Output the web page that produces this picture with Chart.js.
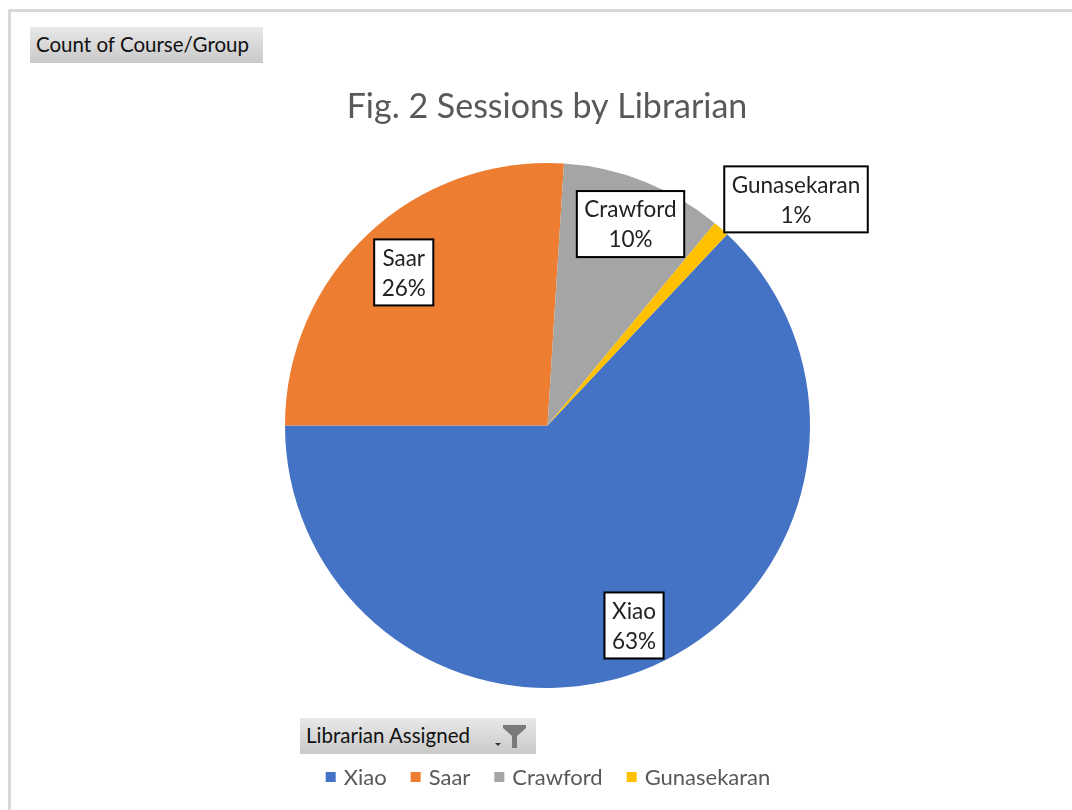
<!DOCTYPE html>
<html>
<head>
<meta charset="utf-8">
<title>Sessions by Librarian</title>
<script src="https://cdn.jsdelivr.net/npm/chart.js@4.4.1/dist/chart.umd.min.js"></script>
<style>
  html, body { margin: 0; padding: 0; background: #fff; }
  #wrap { position: relative; width: 1072px; height: 810px; overflow: hidden; }
  #frame { position: absolute; left: 8px; top: 9px; width: 1080px; height: 820px;
           border-left: 3px solid #d9d9d9; border-top: 3px solid #d9d9d9; box-sizing: border-box; }
  .fieldBtn { position: absolute; box-sizing: border-box; height: 36px; line-height: 35px;
              font-family: Lato, "Noto Sans", sans-serif; font-size: 20.5px; color: #111;
              padding-left: 6px; background: linear-gradient(#e8e8e8, #c9c9c9); }
  #btnValues { left: 30px; top: 27px; width: 233px; }
  #btnAxis { left: 300px; top: 718px; width: 236px; }
  #btnAxis svg { position: absolute; right: 8px; top: 6px; }
  canvas { position: absolute; left: 0; top: 0; }
</style>
</head>
<body>
<div id="wrap">
  <div id="frame"></div>
  <canvas id="grafico" width="1072" height="810"></canvas>
  <div class="fieldBtn" id="btnValues">Count of Course/Group</div>
  <div class="fieldBtn" id="btnAxis">Librarian Assigned
    <svg width="36" height="26" viewBox="0 0 36 26">
      <path d="M3 19 L9 19 L6 22 Z" fill="#333"/>
      <path d="M11 1 L34 1 L34 4 L25 12 L25 24 L20 24 L20 12 L11 4 Z" fill="#7a7a7a"/>
    </svg>
  </div>
</div>
<script>
// sessions per librarian (count of course/group)
const librarians = ['Xiao', 'Saar', 'Crawford', 'Gunasekaran'];
const sessionCounts = [63, 26, 10, 1];
const sliceColors = ['#4472C4', '#ED7D31', '#A5A5A5', '#FFC000'];
const chartTitle = 'Fig. 2 Sessions by Librarian';

const FONT = 'Lato, "Noto Sans", sans-serif';

// where each callout sits: fraction of the radius, plus a small angle nudge (deg)
const calloutPlacement = [
  { r: 0.83, turn: 0 },
  { r: 0.80, turn: 0 },
  { r: 0.83, turn: 0.8 },
  { r: 1.28, turn: 6.3 }
];

const titlePlugin = {
  id: 'tituloGrafico',
  afterDraw(chart) {
    const c = chart.ctx;
    c.save();
    c.fillStyle = '#595959';
    c.font = '34px ' + FONT;
    c.textAlign = 'center';
    c.textBaseline = 'middle';
    c.fillText(chartTitle, 547, 107);
    c.restore();
  }
};

// white boxed callouts with name and percentage
const calloutPlugin = {
  id: 'rotulos',
  afterDatasetsDraw(chart) {
    const c = chart.ctx;
    const meta = chart.getDatasetMeta(0);
    const total = sessionCounts.reduce((a, b) => a + b, 0);
    c.save();
    c.font = '22.5px ' + FONT;
    c.textAlign = 'center';
    c.textBaseline = 'middle';
    meta.data.forEach((arc, i) => {
      const p = arc.getProps(['x', 'y', 'startAngle', 'endAngle', 'outerRadius'], true);
      const place = calloutPlacement[i];
      const mid = (p.startAngle + p.endAngle) / 2 + place.turn * Math.PI / 180;
      const cx = p.x + Math.cos(mid) * p.outerRadius * place.r;
      const cy = p.y + Math.sin(mid) * p.outerRadius * place.r;
      const pct = Math.round(sessionCounts[i] / total * 100) + '%';
      const w = Math.max(c.measureText(librarians[i]).width, c.measureText(pct).width) + 15;
      const h = 66;
      c.fillStyle = '#fff';
      c.fillRect(cx - w / 2, cy - h / 2, w, h);
      c.strokeStyle = '#000';
      c.lineWidth = 2;
      c.strokeRect(cx - w / 2, cy - h / 2, w, h);
      c.fillStyle = '#222';
      c.fillText(librarians[i], cx, cy - 14);
      c.fillText(pct, cx, cy + 16);
    });
    c.restore();
  }
};

// legend row under the axis field button
const legendPlugin = {
  id: 'legenda',
  afterDraw(chart) {
    const c = chart.ctx;
    c.save();
    c.font = '22px ' + FONT;
    c.textBaseline = 'middle';
    const box = 10, gap = 8, spacing = 24;
    const widths = librarians.map(n => box + gap + c.measureText(n).width);
    const full = widths.reduce((a, b) => a + b, 0) + spacing * (librarians.length - 1);
    let x = 548 - full / 2;
    const y = 777;
    librarians.forEach((n, i) => {
      c.fillStyle = sliceColors[i];
      c.fillRect(x, y - box / 2, box, box);
      c.fillStyle = '#595959';
      c.fillText(n, x + box + gap, y + 1);
      x += widths[i] + spacing;
    });
    c.restore();
  }
};

new Chart(document.getElementById('grafico'), {
  type: 'pie',
  data: {
    labels: librarians,
    datasets: [{
      data: sessionCounts,
      backgroundColor: sliceColors,
      borderWidth: 0
    }]
  },
  options: {
    responsive: false,
    animation: false,
    rotation: 43.2,
    layout: { padding: { left: 285, right: 262, top: 163, bottom: 122 } },
    plugins: {
      legend: { display: false },
      title: { display: false },
      tooltip: { enabled: false }
    }
  },
  plugins: [titlePlugin, calloutPlugin, legendPlugin]
});
</script>
</body>
</html>
